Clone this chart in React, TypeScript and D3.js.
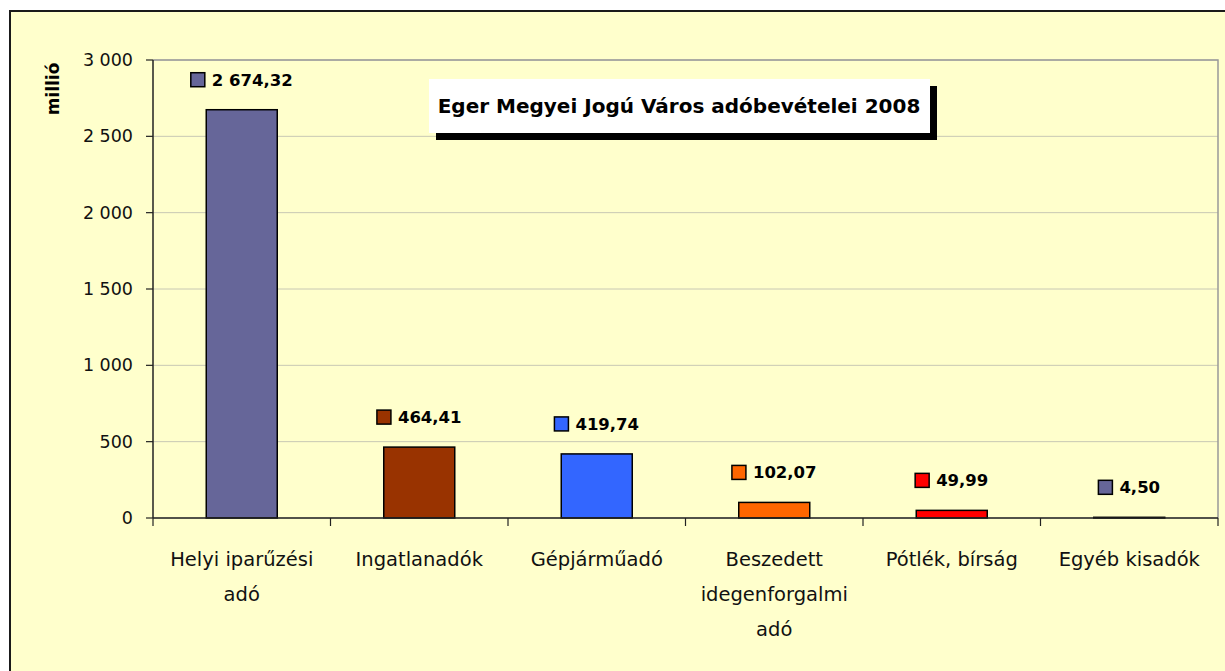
import React from "react";
import * as d3 from "d3";

const categories = [
  "Helyi iparűzési\nadó",
  "Ingatlanadók",
  "Gépjárműadó",
  "Beszedett\nidegenforgalmi\nadó",
  "Pótlék, bírság",
  "Egyéb kisadók",
];
const values = [2674.32, 464.41, 419.74, 102.07, 49.99, 4.5];
const colors = ["#666699", "#993300", "#3366FF", "#FF6600", "#FF0000", "#666699"];
const yTicks = [0, 500, 1000, 1500, 2000, 2500, 3000];
const title = "Eger Megyei Jogú Város adóbevételei 2008";
const yLabel = "millió";

const W = 1225;
const H = 671;
const FONT = "'DejaVu Sans', sans-serif";

const fmtTick = (v: number) => d3.format(",")(v).replace(/,/g, "\u00a0");
const fmtVal = (v: number) => {
  const s = d3.format(",.2f")(v);
  return s.replace(/,/g, "\u00a0").replace(".", ",");
};

let ctx: CanvasRenderingContext2D | null = null;
function measure(text: string, font: string) {
  if (!ctx) ctx = document.createElement("canvas").getContext("2d");
  if (!ctx) return text.length * 10;
  ctx.font = font;
  return ctx.measureText(text).width;
}

export default function App() {
  const left = 153, right = 1218, top = 60, bottom = 518;
  const x = d3.scaleBand<number>().domain(d3.range(categories.length)).range([left, right]).paddingInner(0.6).paddingOuter(0.3);
  const band = d3.scaleBand<number>().domain(d3.range(categories.length)).range([left, right]);
  const y = d3.scaleLinear().domain([0, 3000]).range([bottom, top]);

  return (
    <svg width={W} height={H} style={{ position: "absolute", left: 0, top: 0 }} fontFamily={FONT}>
      <rect x={0} y={0} width={W} height={H} fill="#ffffff" />
      <rect x={10} y={11} width={W + 20} height={H + 20} fill="#FFFFCC" stroke="#1a1a1a" strokeWidth={2} />
      {yTicks.map((t) => (
        <line key={"g" + t} x1={left} x2={right} y1={y(t)} y2={y(t)} stroke="#c8c8b4" strokeWidth={1} />
      ))}
      <path d={`M${left},${top}H${right}V${bottom}`} fill="none" stroke="#999999" strokeWidth={1.5} />
      {values.map((v, i) => (
        <rect key={"b" + i} x={x(i)} y={y(v)} width={x.bandwidth()} height={bottom - y(v)} fill={colors[i]} stroke="#000" strokeWidth={1.5} />
      ))}
      <line x1={left} x2={left} y1={top} y2={bottom} stroke="#222" strokeWidth={1.5} />
      <line x1={left} x2={right} y1={bottom} y2={bottom} stroke="#222" strokeWidth={1.5} />
      {yTicks.map((t) => (
        <g key={"t" + t}>
          <line x1={left - 7} x2={left} y1={y(t)} y2={y(t)} stroke="#222" strokeWidth={1.2} />
          <text x={133} y={y(t)} dy="0.35em" textAnchor="end" fontSize={17.5} fill="#111">{fmtTick(t)}</text>
        </g>
      ))}
      {d3.range(categories.length + 1).map((i) => {
        const xx = i < categories.length ? (band(i) as number) : right;
        return <line key={"xt" + i} x1={xx} x2={xx} y1={bottom} y2={bottom + 8} stroke="#222" strokeWidth={1.2} />;
      })}
      {categories.map((c, i) => {
        const cx = (band(i) as number) + band.bandwidth() / 2;
        return (
          <text key={"c" + i} x={cx} y={566} textAnchor="middle" fontSize={19.5} fill="#111">
            {c.split("\n").map((ln, k) => (
              <tspan key={k} x={cx} dy={k === 0 ? 0 : 35}>{ln}</tspan>
            ))}
          </text>
        );
      })}
      {values.map((v, i) => {
        const cx = (band(i) as number) + band.bandwidth() / 2;
        const cy = y(v) - 30;
        const label = fmtVal(v);
        const tw = measure(label, "bold 16.5px 'DejaVu Sans'");
        const total = 14 + 7 + tw;
        const sx = cx - total / 2;
        return (
          <g key={"l" + i}>
            <rect x={sx} y={cy - 7} width={14} height={14} fill={colors[i]} stroke="#000" strokeWidth={1.5} />
            <text x={sx + 21} y={cy} dy="0.36em" fontSize={16.5} fontWeight="bold" fill="#000">{label}</text>
          </g>
        );
      })}
      <rect x={436} y={86} width={501} height={54} fill="#000" />
      <rect x={429} y={79} width={501} height={54} fill="#fff" />
      <text x={679} y={106} dy="0.35em" textAnchor="middle" fontSize={20} fontWeight="bold" fill="#000">{title}</text>
      <text transform={`translate(53,89) rotate(-90)`} textAnchor="middle" dy="0.35em" fontSize={17} fontWeight="bold" fill="#000">{yLabel}</text>
    </svg>
  );
}
